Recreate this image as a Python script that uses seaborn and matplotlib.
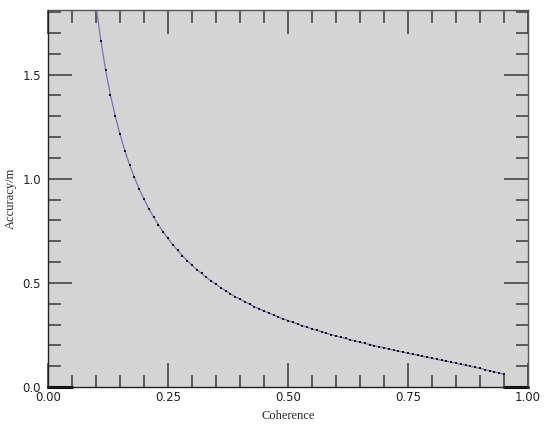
import seaborn as sns
import numpy as np
import matplotlib.pyplot as plt
import pandas as pd
from matplotlib.ticker import MultipleLocator

# coherence values on the x axis, accuracy (m)
coherence = [0.10, 0.11, 0.12, 0.13, 0.14, 0.15, 0.16, 0.17, 0.18, 0.19,
             0.20, 0.21, 0.22, 0.23, 0.24, 0.25, 0.26, 0.27, 0.28, 0.29,
             0.30, 0.31, 0.32, 0.33, 0.34, 0.35, 0.36, 0.37, 0.38, 0.39,
             0.40, 0.41, 0.42, 0.43, 0.44, 0.45, 0.46, 0.47, 0.48, 0.49,
             0.50, 0.51, 0.52, 0.53, 0.54, 0.55, 0.56, 0.57, 0.58, 0.59,
             0.60, 0.61, 0.62, 0.63, 0.64, 0.65, 0.66, 0.67, 0.68, 0.69,
             0.70, 0.71, 0.72, 0.73, 0.74, 0.75, 0.76, 0.77, 0.78, 0.79,
             0.80, 0.81, 0.82, 0.83, 0.84, 0.85, 0.86, 0.87, 0.88, 0.89,
             0.90, 0.91, 0.92, 0.93, 0.94, 0.95]
accuracy = [1.831, 1.663, 1.522, 1.403, 1.301, 1.213, 1.135, 1.067, 1.006, 0.951,
            0.901, 0.857, 0.816, 0.779, 0.744, 0.713, 0.683, 0.656, 0.631, 0.607,
            0.585, 0.564, 0.545, 0.526, 0.509, 0.493, 0.477, 0.462, 0.448, 0.434,
            0.422, 0.409, 0.398, 0.386, 0.376, 0.365, 0.355, 0.346, 0.336, 0.327,
            0.319, 0.310, 0.302, 0.294, 0.287, 0.279, 0.272, 0.265, 0.258, 0.252,
            0.245, 0.239, 0.233, 0.227, 0.221, 0.215, 0.209, 0.204, 0.198, 0.193,
            0.188, 0.183, 0.177, 0.172, 0.167, 0.162, 0.157, 0.153, 0.148, 0.143,
            0.138, 0.133, 0.128, 0.124, 0.119, 0.114, 0.109, 0.104, 0.099, 0.094,
            0.089, 0.084, 0.078, 0.073, 0.067, 0.061]

df = pd.DataFrame({'coherence': coherence, 'accuracy': accuracy})

sns.set_style('ticks')
plt.rcParams['font.family'] = ['DejaVu Sans']

fig = plt.figure(figsize=(5.5, 4.3), dpi=100)
ax = fig.add_axes([0.0873, 0.1, 0.8727, 0.8767])
ax.set_facecolor('#d4d4d4')

sns.lineplot(data=df, x='coherence', y='accuracy', ax=ax,
             color='#7474b8', linewidth=0.9,
             marker='s', markersize=1.9, markeredgewidth=0,
             markerfacecolor='#111111')

ax.set_xlim(0, 1)
ax.set_ylim(0, 1.81)
ax.xaxis.set_major_locator(MultipleLocator(0.25))
ax.xaxis.set_minor_locator(MultipleLocator(0.05))
ax.yaxis.set_major_locator(MultipleLocator(0.5))
ax.yaxis.set_minor_locator(MultipleLocator(0.1))
ax.xaxis.set_major_formatter(lambda v, p: f'{v:.2f}')
ax.yaxis.set_major_formatter(lambda v, p: f'{v:.1f}')

ax.tick_params(which='both', direction='in', top=True, right=True,
               color='#3a3a3a', labelsize=8.5, labelcolor='#222222')
ax.tick_params(which='major', length=17, width=1.1, pad=3)
ax.tick_params(which='minor', length=9, width=1.1)
ax.tick_params(axis='y', which='major', pad=5)

for side in ['top', 'right']:
    ax.spines[side].set_color('#555555')
for side in ['left', 'bottom']:
    ax.spines[side].set_color('#222222')
for s in ax.spines.values():
    s.set_linewidth(1.0)

# thick bits of the bottom frame at both ends
ax.plot([0, 0.05], [0, 0], color='black', lw=2.2, clip_on=False)
ax.plot([0.95, 1.0], [0, 0], color='black', lw=2.2, clip_on=False)

ax.set_xlabel('Coherence', family='Liberation Serif', fontsize=9, labelpad=4)
ax.set_ylabel('Accuracy/m', family='Liberation Serif', fontsize=9, labelpad=4)

fig.savefig('out.png', dpi=100)
